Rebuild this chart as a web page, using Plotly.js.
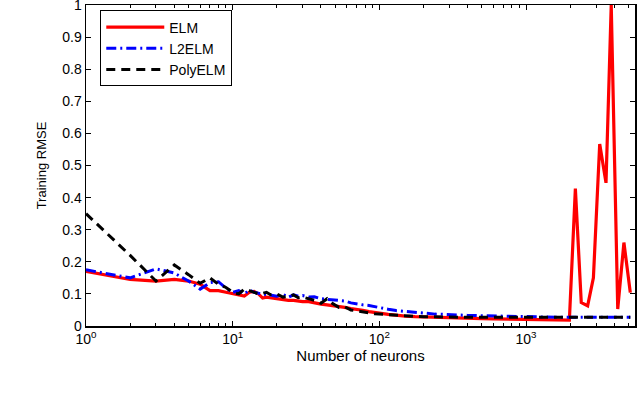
<!DOCTYPE html>
<html><head><meta charset="utf-8">
<script src="https://cdn.plot.ly/plotly-3.0.1.min.js"></script>
<style>body{margin:0;background:#fff}#chart{width:638px;height:396px}</style>
</head><body><div id="chart"></div>
<script>
var neurons = [1,2,3,4,5,6,7,8,9,10,11,12,13,14,15,16,17,18,20,22,24,26,28,30,33,36,40,44,48,53,58,64,70,77,85,93,100,115,130,150,175,200,240,280,330,400,500,600,750,900,1100,1300,1550,1800,1975,2170,2380,2630,2880,3180,3510,3810,4220,4650,5140];
var elm = [0.170,0.145,0.140,0.145,0.140,0.130,0.110,0.110,0.105,0.100,0.095,0.093,0.105,0.108,0.100,0.087,0.090,0.088,0.085,0.082,0.080,0.080,0.078,0.076,0.076,0.072,0.068,0.066,0.064,0.060,0.058,0.054,0.052,0.049,0.045,0.041,0.040,0.036,0.033,0.031,0.029,0.028,0.026,0.025,0.024,0.024,0.023,0.022,0.021,0.021,0.020,0.019,0.019,0.018,0.018,0.428,0.073,0.063,0.150,0.567,0.446,1.000,0.053,0.260,0.104];
var l2elm = [0.175,0.150,0.178,0.165,0.140,0.115,0.135,0.138,0.118,0.105,0.110,0.100,0.112,0.105,0.102,0.100,0.097,0.095,0.093,0.098,0.090,0.097,0.093,0.095,0.090,0.091,0.085,0.083,0.082,0.080,0.078,0.072,0.068,0.066,0.064,0.060,0.056,0.052,0.048,0.045,0.042,0.040,0.037,0.036,0.034,0.033,0.032,0.031,0.030,0.029,0.028,0.028,0.027,0.027,0.027,0.027,0.027,0.027,0.027,0.027,0.027,0.027,0.027,0.027,0.027];
var polyelm = [0.350,0.220,0.140,0.190,0.160,0.133,0.150,0.130,0.120,0.105,0.100,0.115,0.110,0.105,0.100,0.102,0.105,0.098,0.100,0.090,0.092,0.097,0.088,0.090,0.085,0.080,0.071,0.085,0.070,0.058,0.060,0.050,0.047,0.043,0.041,0.038,0.037,0.035,0.032,0.031,0.030,0.029,0.028,0.027,0.027,0.027,0.027,0.027,0.027,0.027,0.027,0.027,0.027,0.027,0.027,0.027,0.027,0.027,0.027,0.027,0.027,0.027,0.027,0.027,0.027];
var seriesNames = ['ELM','L2ELM','PolyELM'];
var xTickVals = [1,10,100,1000];
var xTickText = ['10<sup>0</sup>','10<sup>1</sup>','10<sup>2</sup>','10<sup>3</sup>'];
var xMinorVals = [2,3,4,5,6,7,8,9,20,30,40,50,60,70,80,90,200,300,400,500,600,700,800,900,2000,3000,4000,5000];
var yTickVals = [0,0.1,0.2,0.3,0.4,0.5,0.6,0.7,0.8,0.9,1];
var yTickText = ['0','0.1','0.2','0.3','0.4','0.5','0.6','0.7','0.8','0.9','1'];

var traces = [
  {x: neurons, y: elm, name: seriesNames[0], mode: 'lines', line: {color: '#ff0000', width: 3.2}},
  {x: neurons, y: l2elm, name: seriesNames[1], mode: 'lines', line: {color: '#0000ff', width: 3, dash: '10px,4px,2px,4px'}},
  {x: neurons, y: polyelm, name: seriesNames[2], mode: 'lines', line: {color: '#000000', width: 3, dash: '9px,6px'}}
];
var fam = 'Liberation Sans, Arial, sans-serif';
var layout = {
  width: 638, height: 396,
  margin: {l: 86, r: 3, t: 5, b: 70},
  paper_bgcolor: '#fff', plot_bgcolor: '#fff',
  font: {family: fam, color: '#000', size: 14},
  showlegend: true,
  legend: {x: 0.026, y: 0.983, xanchor: 'left', yanchor: 'top', bgcolor: '#fff', bordercolor: '#000', borderwidth: 1,
           font: {family: fam, size: 14, color: '#000'}, itemwidth: 58, tracegroupgap: 0},
  xaxis: {type: 'log', range: [0, 3.743], tickmode: 'array', tickvals: xTickVals, ticktext: xTickText,
          ticks: 'inside', ticklen: 5, tickwidth: 1, tickcolor: '#000', showgrid: false, zeroline: false,
          showline: true, linecolor: '#000', linewidth: 1.5, mirror: 'allticks',
          tickfont: {family: fam, size: 14, color: '#000'},
          minor: {tickmode: 'array', tickvals: xMinorVals, ticks: 'inside', ticklen: 3, tickcolor: '#000', tickwidth: 1, showgrid: false},
          title: {text: 'Number of neurons', font: {family: fam, size: 15, color: '#000'}, standoff: 4}},
  yaxis: {range: [0, 1], tickmode: 'array', tickvals: yTickVals, ticktext: yTickText,
          ticks: 'inside', ticklen: 5, tickwidth: 1, tickcolor: '#000', showgrid: false, zeroline: false,
          showline: true, linecolor: '#000', linewidth: 1.5, mirror: 'allticks', ticklabeloverflow: 'allow',
          tickfont: {family: fam, size: 14, color: '#000'},
          title: {text: 'Training RMSE', font: {family: fam, size: 13, color: '#000'}, standoff: 12}}
};
Plotly.newPlot('chart', traces, layout, {staticPlot: true, displayModeBar: false});
</script>
</body></html>
